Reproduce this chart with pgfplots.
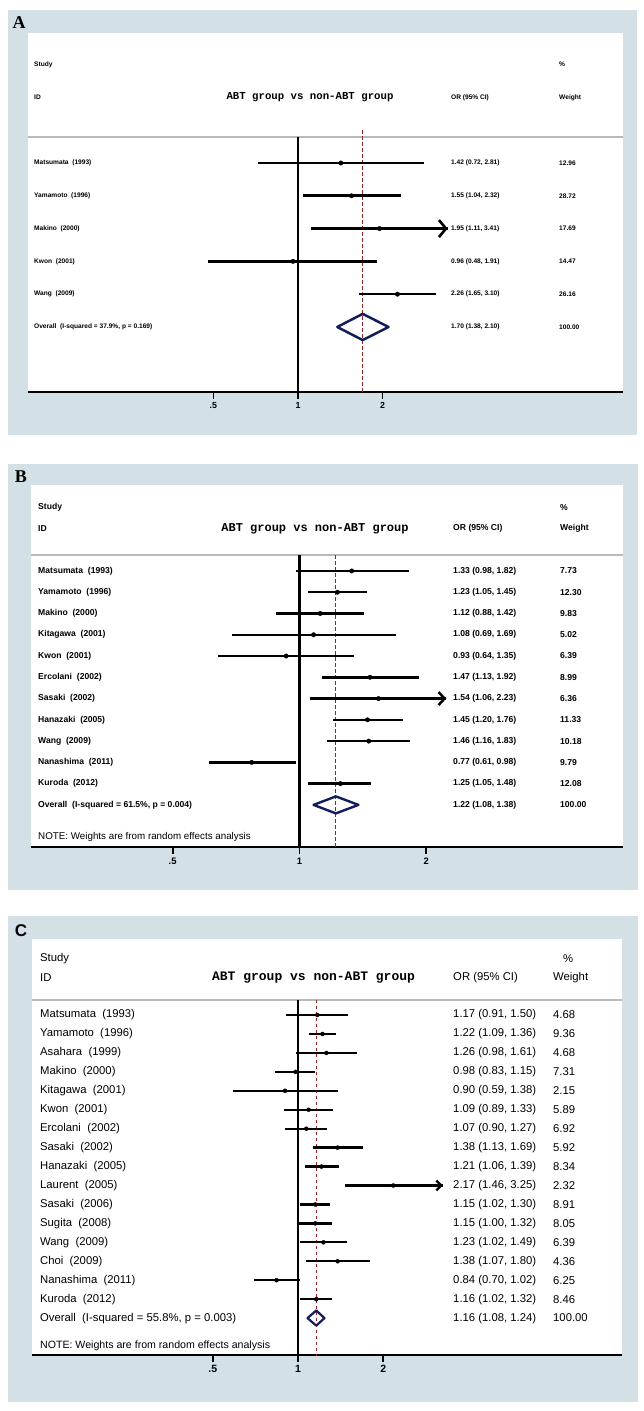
\documentclass[border=0pt]{standalone}
\usepackage{fontspec}
\setmainfont{Liberation Sans}
\newfontfamily\monofont{Liberation Mono}
\newfontfamily\seriffont{Liberation Serif}
\usepackage{pgfplots}
\pgfplotsset{compat=1.18}
\usepackage{pgfplotstable}
\usetikzlibrary{arrows.meta}
\definecolor{boxcol}{RGB}{211,224,230}
\definecolor{navy}{RGB}{20,28,90}
\definecolor{dred}{RGB}{150,35,35}

\newcommand\fA{\fontsize{6.6}{8}\selectfont\bfseries}
\newcommand\fB{\fontsize{8.6}{10}\selectfont\bfseries}
\newcommand\fC{\fontsize{11.3}{13}\selectfont}
\newcommand\tA{\fontsize{10.7}{12}\selectfont\monofont\bfseries}
\newcommand\tB{\fontsize{12}{14}\selectfont\monofont\bfseries}
\newcommand\tC{\fontsize{13}{15}\selectfont\monofont\bfseries}

\pgfplotstableread{
row or lo hi
-1 1.42 0.72 2.81
-2 1.55 1.04 2.32
-3 1.95 1.11 3.41
-4 0.96 0.48 1.91
-5 2.26 1.65 3.10
}\tabA

\pgfplotstableread{
row or lo hi
-1 1.33 0.98 1.82
-2 1.23 1.05 1.45
-3 1.12 0.88 1.42
-4 1.08 0.69 1.69
-5 0.93 0.64 1.35
-6 1.47 1.13 1.92
-7 1.54 1.06 2.23
-8 1.45 1.20 1.76
-9 1.46 1.16 1.83
-10 0.77 0.61 0.98
-11 1.25 1.05 1.48
}\tabB

\pgfplotstableread{
row or lo hi
-1 1.17 0.91 1.50
-2 1.22 1.09 1.36
-3 1.26 0.98 1.61
-4 0.98 0.83 1.15
-5 0.90 0.59 1.38
-6 1.09 0.89 1.33
-7 1.07 0.90 1.27
-8 1.38 1.13 1.69
-9 1.21 1.06 1.39
-10 2.17 1.46 3.25
-11 1.15 1.02 1.30
-12 1.15 1.00 1.32
-13 1.23 1.02 1.49
-14 1.38 1.07 1.80
-15 0.84 0.70 1.02
-16 1.16 1.02 1.32
}\tabC

\tikzset{tl/.style={anchor=west, inner sep=0pt}}
% text rows: y, label, OR (95% CI), weight
\newcommand\rA[4]{\node[tl,font=\fA] at (axis cs:0.1149,#1) {#2};\node[tl,font=\fA] at (axis cs:3.504,#1) {#3};\node[tl,font=\fA] at (axis cs:8.494,#1) {#4};}
\newcommand\rB[4]{\node[tl,font=\fB] at (axis cs:0.2396,#1) {#2};\node[tl,font=\fB] at (axis cs:2.314,#1) {#3};\node[tl,font=\fB] at (axis cs:4.151,#1) {#4};}
\newcommand\rC[4]{\node[tl,font=\fC] at (axis cs:0.1227,#1) {#2};\node[tl,font=\fC] at (axis cs:3.526,#1) {#3};\node[tl,font=\fC] at (axis cs:7.950,#1) {#4};}

\begin{document}
\begin{tikzpicture}
\path[use as bounding box] (0pt,0pt) rectangle (644pt,-1411pt);
\fill[boxcol] (8pt,-10pt) rectangle (637pt,-435pt);
\fill[white] (28pt,-33pt) rectangle (623pt,-392pt);
\fill[boxcol] (8pt,-464pt) rectangle (638pt,-890pt);
\fill[white] (31pt,-485pt) rectangle (623pt,-847pt);
\fill[boxcol] (8pt,-916pt) rectangle (638pt,-1402pt);
\fill[white] (32pt,-939pt) rectangle (622pt,-1355pt);
\node[font=\fontsize{18}{20}\selectfont\seriffont\bfseries] at (19pt,-23pt) {A};
\node[font=\fontsize{18}{20}\selectfont\seriffont\bfseries] at (21pt,-477pt) {B};
\node[font=\fontsize{17}{19}\selectfont\bfseries] at (21pt,-931pt) {C};

% ---------------- Panel A
\begin{axis}[xmode=log, scale only axis, clip=true,
  axis x line*=bottom, axis y line=none,
  xtick={0.5,1,2}, xticklabels={.5,1,2}, xminorticks=false, ytick=\empty,
  tick align=outside, major tick length=7pt,
  x axis line style={line width=2.4pt}, xtick style={black, line width=1.8pt},
  at={(28pt,-392pt)}, anchor=south west, width=595pt, height=359pt,
  xmin=0.1094, xmax=14.35, ymin=-7.982, ymax=2.963,
  xticklabel style={font=\fontsize{8.8}{10}\selectfont\bfseries}]
\addplot[gray!55, line width=1.4pt] coordinates {(0.01,-0.21) (100,-0.21)};
\addplot[black, line width=2.3pt] coordinates {(1,-0.21) (1,-30)};
\addplot[dred, line width=1.2pt, dash pattern=on 3.5pt off 2.5pt] coordinates {(1.70,0) (1.70,-30)};
\addplot[only marks, mark=*, mark size=2.2pt, black, mark options={fill=black},
  error bars/.cd, x dir=both, x explicit, error mark=none, error bar style={line width=2.6pt, black}]
  table[x=or, y=row, x error plus expr=\thisrow{hi}-\thisrow{or}, x error minus expr=\thisrow{or}-\thisrow{lo}] {\tabA};
\addplot[black, line width=2.6pt, -{Straight Barb[length=7pt,width=17pt]}] coordinates {(1.11,-3) (3.41,-3)};
\addplot[navy, line width=2.5pt, line join=round, line cap=round] coordinates {(1.38,-6) (1.70,-5.6) (2.10,-6) (1.70,-6.4) (1.38,-6)};
\rA{2}{Study}{}{\%}
\rA{1}{ID}{OR (95\% CI)}{Weight}
\node[font=\tA] at (axis cs:1.1034,1) {ABT group vs non-ABT group};
\rA{-1}{Matsumata~~(1993)}{1.42 (0.72, 2.81)}{12.96}
\rA{-2}{Yamamoto~~(1996)}{1.55 (1.04, 2.32)}{28.72}
\rA{-3}{Makino~~(2000)}{1.95 (1.11, 3.41)}{17.69}
\rA{-4}{Kwon~~(2001)}{0.96 (0.48, 1.91)}{14.47}
\rA{-5}{Wang~~(2009)}{2.26 (1.65, 3.10)}{26.16}
\rA{-6}{Overall~~(I-squared = 37.9\%, p = 0.169)}{1.70 (1.38, 2.10)}{100.00}
\end{axis}

% ---------------- Panel B
\begin{axis}[xmode=log, scale only axis, clip=true,
  axis x line*=bottom, axis y line=none,
  xtick={0.5,1,2}, xticklabels={.5,1,2}, xminorticks=false, ytick=\empty,
  tick align=outside, major tick length=7pt,
  x axis line style={line width=2.4pt}, xtick style={black, line width=1.8pt},
  at={(31pt,-847pt)}, anchor=south west, width=592pt, height=362pt,
  xmin=0.2306, xmax=5.858, ymin=-13.98, ymax=3.042,
  xticklabel style={font=\fontsize{9.4}{11}\selectfont\bfseries}]
\addplot[gray!55, line width=1.4pt] coordinates {(0.01,-0.25) (100,-0.25)};
\addplot[black, line width=2.3pt] coordinates {(1,-0.25) (1,-30)};
\addplot[dred, line width=1.2pt, dash pattern=on 3.5pt off 2.5pt] coordinates {(1.22,-0.25) (1.22,-30)};
\addplot[only marks, mark=*, mark size=2.2pt, black, mark options={fill=black},
  error bars/.cd, x dir=both, x explicit, error mark=none, error bar style={line width=2.5pt, black}]
  table[x=or, y=row, x error plus expr=\thisrow{hi}-\thisrow{or}, x error minus expr=\thisrow{or}-\thisrow{lo}] {\tabB};
\addplot[black, line width=2.5pt, -{Straight Barb[length=6pt,width=13pt]}] coordinates {(1.06,-7) (2.23,-7)};
\addplot[navy, line width=2.4pt, line join=round, line cap=round] coordinates {(1.08,-12) (1.22,-11.6) (1.38,-12) (1.22,-12.4) (1.08,-12)};
\rB{2}{Study}{}{\%}
\rB{1}{ID}{OR (95\% CI)}{Weight}
\node[font=\tB] at (axis cs:1.0884,1) {ABT group vs non-ABT group};
\rB{-1}{Matsumata~~(1993)}{1.33 (0.98, 1.82)}{7.73}
\rB{-2}{Yamamoto~~(1996)}{1.23 (1.05, 1.45)}{12.30}
\rB{-3}{Makino~~(2000)}{1.12 (0.88, 1.42)}{9.83}
\rB{-4}{Kitagawa~~(2001)}{1.08 (0.69, 1.69)}{5.02}
\rB{-5}{Kwon~~(2001)}{0.93 (0.64, 1.35)}{6.39}
\rB{-6}{Ercolani~~(2002)}{1.47 (1.13, 1.92)}{8.99}
\rB{-7}{Sasaki~~(2002)}{1.54 (1.06, 2.23)}{6.36}
\rB{-8}{Hanazaki~~(2005)}{1.45 (1.20, 1.76)}{11.33}
\rB{-9}{Wang~~(2009)}{1.46 (1.16, 1.83)}{10.18}
\rB{-10}{Nanashima~~(2011)}{0.77 (0.61, 0.98)}{9.79}
\rB{-11}{Kuroda~~(2012)}{1.25 (1.05, 1.48)}{12.08}
\rB{-12}{Overall~~(I-squared = 61.5\%, p = 0.004)}{1.22 (1.08, 1.38)}{100.00}
\node[tl, font=\fontsize{9.8}{11}\selectfont] at (axis cs:0.2396,-13.51) {NOTE: Weights are from random effects analysis};
\end{axis}

% ---------------- Panel C
\begin{axis}[xmode=log, scale only axis, clip=true,
  axis x line*=bottom, axis y line=none,
  xtick={0.5,1,2}, xticklabels={.5,1,2}, xminorticks=false, ytick=\empty,
  tick align=outside, major tick length=7pt,
  x axis line style={line width=2.4pt}, xtick style={black, line width=1.8pt},
  at={(32pt,-1355pt)}, anchor=south west, width=590pt, height=416pt,
  xmin=0.1150, xmax=13.93, ymin=-18.95, ymax=3.015,
  xticklabel style={font=\fontsize{10.5}{12}\selectfont\bfseries}]
\addplot[gray!55, line width=1.4pt] coordinates {(0.01,-0.2) (100,-0.2)};
\addplot[black, line width=2.1pt] coordinates {(1,-0.2) (1,-30)};
\addplot[dred, line width=1.2pt, dash pattern=on 3.5pt off 2.5pt] coordinates {(1.16,-0.2) (1.16,-30)};
\addplot[only marks, mark=*, mark size=2pt, black, mark options={fill=black},
  error bars/.cd, x dir=both, x explicit, error mark=none, error bar style={line width=2.3pt, black}]
  table[x=or, y=row, x error plus expr=\thisrow{hi}-\thisrow{or}, x error minus expr=\thisrow{or}-\thisrow{lo}] {\tabC};
\addplot[black, line width=2.3pt, -{Straight Barb[length=5pt,width=10pt]}] coordinates {(1.46,-10) (3.25,-10)};
\addplot[navy, line width=2.2pt, line join=round, line cap=round] coordinates {(1.08,-17) (1.16,-16.6) (1.24,-17) (1.16,-17.4) (1.08,-17)};
\rC{1}{ID}{OR (95\% CI)}{Weight}
\node[tl,font=\fC] at (axis cs:0.1227,2) {Study};
\node[tl,font=\fC] at (axis cs:8.624,2) {\%};
\node[font=\tC] at (axis cs:1.1343,1) {ABT group vs non-ABT group};
\rC{-1}{Matsumata~~(1993)}{1.17 (0.91, 1.50)}{4.68}
\rC{-2}{Yamamoto~~(1996)}{1.22 (1.09, 1.36)}{9.36}
\rC{-3}{Asahara~~(1999)}{1.26 (0.98, 1.61)}{4.68}
\rC{-4}{Makino~~(2000)}{0.98 (0.83, 1.15)}{7.31}
\rC{-5}{Kitagawa~~(2001)}{0.90 (0.59, 1.38)}{2.15}
\rC{-6}{Kwon~~(2001)}{1.09 (0.89, 1.33)}{5.89}
\rC{-7}{Ercolani~~(2002)}{1.07 (0.90, 1.27)}{6.92}
\rC{-8}{Sasaki~~(2002)}{1.38 (1.13, 1.69)}{5.92}
\rC{-9}{Hanazaki~~(2005)}{1.21 (1.06, 1.39)}{8.34}
\rC{-10}{Laurent~~(2005)}{2.17 (1.46, 3.25)}{2.32}
\rC{-11}{Sasaki~~(2006)}{1.15 (1.02, 1.30)}{8.91}
\rC{-12}{Sugita~~(2008)}{1.15 (1.00, 1.32)}{8.05}
\rC{-13}{Wang~~(2009)}{1.23 (1.02, 1.49)}{6.39}
\rC{-14}{Choi~~(2009)}{1.38 (1.07, 1.80)}{4.36}
\rC{-15}{Nanashima~~(2011)}{0.84 (0.70, 1.02)}{6.25}
\rC{-16}{Kuroda~~(2012)}{1.16 (1.02, 1.32)}{8.46}
\rC{-17}{Overall~~(I-squared = 55.8\%, p = 0.003)}{1.16 (1.08, 1.24)}{100.00}
\node[tl, font=\fontsize{10.6}{12}\selectfont] at (axis cs:0.1227,-18.47) {NOTE: Weights are from random effects analysis};
\end{axis}
\end{tikzpicture}
\end{document}
